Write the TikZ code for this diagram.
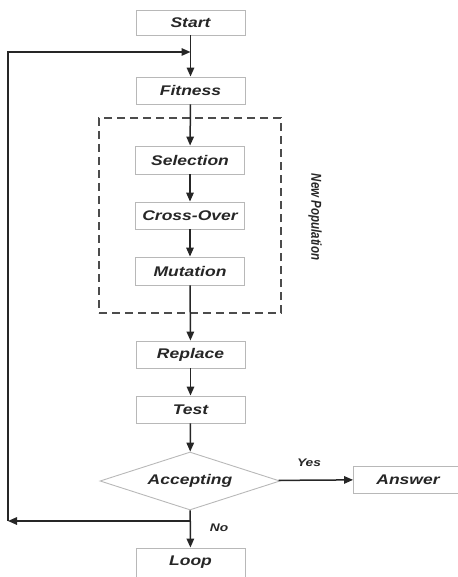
\documentclass[tikz,border=0pt]{standalone}
\usepackage{fontspec}
\setmainfont{Liberation Sans}
\newfontfamily\widefont[FakeStretch=1.25]{Liberation Sans}
\usetikzlibrary{shapes.geometric,arrows.meta}
\tikzset{
  box/.style={draw=black!28, line width=0.9pt, minimum width=109pt, minimum height=27pt, inner sep=0pt,
    font=\widefont\bfseries\itshape\fontsize{14}{15}\selectfont, text=black!85},
  dec/.style={diamond, draw=black!28, line width=0.9pt, minimum width=180pt, minimum height=58pt, inner sep=0pt,
    shape aspect=3, font=\widefont\bfseries\itshape\fontsize{14}{15}\selectfont, text=black!85},
  arr/.style={draw=black!85, line width=1.5pt, -{Triangle[length=9pt,width=7.5pt]}},
  lbl/.style={font=\widefont\bfseries\itshape\fontsize{11}{12}\selectfont, text=black!85, inner sep=0pt}
}
\begin{document}
\begin{tikzpicture}[x=1pt,y=-1pt]
\useasboundingbox (0,0) rectangle (457,577);
\node[box, minimum height=25pt] (start) at (190.5,22.5) {Start};
\node[box] (fit) at (190.5,90.5) {Fitness};
\node[box, minimum height=28pt] (sel) at (190,160) {Selection};
\node[box] (cross) at (190,215.5) {Cross-Over};
\node[box, minimum height=28pt] (mut) at (190,271) {Mutation};
\node[box] (rep) at (190.5,354.5) {Replace};
\node[box] (test) at (190.5,409.5) {Test};
\node[dec] (acc) at (190,481) {Accepting};
\node[box] (ans) at (408,479.5) {Answer};
\node[box, minimum height=29pt] (loop) at (190.5,562.5) {Loop};
\node[draw=black!70, dashed, dash pattern=on 8pt off 5pt, line width=1.3pt, minimum width=182pt, minimum height=195pt, inner sep=0pt] (pop) at (190,215.5) {};
\node[lbl, font=\bfseries\itshape\fontsize{11.5}{12}\selectfont, rotate=-90] (np) at (315,217) {\scalebox{1}[1.25]{New Population}};
\coordinate (ft) at (190.5,52);
\coordinate (fb) at (190,521);
\coordinate (tl) at (8,52);
\coordinate (bl) at (8,521);
\draw[arr] (start) -- (fit);
\draw[arr] (fit) -- (sel);
\draw[arr] (sel) -- (cross);
\draw[arr] (cross) -- (mut);
\draw[arr] (mut) -- (rep);
\draw[arr] (rep) -- (test);
\draw[arr] (test) -- (acc);
\draw[arr] (acc) -- (ans);
\draw[arr] (acc) -- (loop);
\draw[arr] (fb) -- (bl);
\draw[arr] (bl) -- (tl) -- (ft);
\node[lbl] (yes) at (309,463) {Yes};
\node[lbl] (no) at (219,528) {No};
\end{tikzpicture}
\end{document}
